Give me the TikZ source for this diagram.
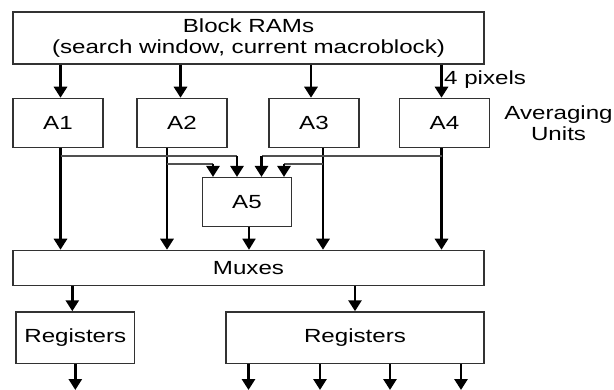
\documentclass[tikz,border=0pt]{standalone}
\usepackage{fontspec}
\setmainfont{Liberation Sans}[FakeStretch=1.27]
\usetikzlibrary{arrows.meta, positioning}
\definecolor{boxgray}{RGB}{50, 50, 50}
\definecolor{tapgray}{RGB}{80, 80, 80}

\begin{document}
\begin{tikzpicture}[x=1pt, y=1pt, font=\fontsize{19}{20.5}\selectfont,
    unit/.style={rectangle, draw=boxgray, line width=1.5pt, minimum width=90pt, minimum height=49pt, inner sep=0pt},
    wide/.style={unit, minimum width=471pt},
    note/.style={inner sep=2pt},
    bus/.style={draw, line width=2.8pt, -{Triangle[width=13pt, length=11pt]}},
    tap/.style={draw=tapgray, line width=1.7pt}]
    \useasboundingbox (0,0) rectangle (614,389);

    \node [wide, minimum height=52pt, align=center] (ram) at (248.5,351) {Block RAMs\\(search window, current macroblock)};
    \node [unit, below right=33pt and 0pt of ram.south west] (a1) {A1};
    \node [unit, right=32.5pt of a1] (a2) {A2};
    \node [unit, right=40.5pt of a2] (a3) {A3};
    \node [unit, right=39pt of a3] (a4) {A4};
    \node [unit, minimum width=89pt] (a5) at (247,186.8) {A5};
    \node [wide, minimum height=35pt, below=185pt of ram] (mux) {Muxes};
    \node [unit, minimum width=118.6pt, minimum height=51.7pt, below right=25pt and 3pt of mux.south west] (reg1) {Registers};
    \node [unit, minimum width=258pt, minimum height=51.7pt, below left=25pt and 0pt of mux.south east] (reg2) {Registers};
    \node [note, anchor=west] (pix) at (442,309) {4 pixels};
    \node [note, align=center, right=12pt of a4] (avg) {Averaging\\Units};
    \coordinate (floor) at (0,-1);

    % block RAMs feed the averaging units
    \foreach \u/\s in {a1/2.5,a2/-1.5,a3/-3,a4/-3} {
        \coordinate (d) at ([xshift=\s pt]\u.north);
        \path [bus] (ram.south -| d) -- (d);
    }

    % unit outputs straight down to the muxes
    \coordinate (o1) at ([xshift=2.5pt]a1.south);
    \coordinate (o2) at ([xshift=-15pt]a2.south);
    \coordinate (o3) at ([xshift=9pt]a3.south);
    \coordinate (o4) at ([xshift=-3pt]a4.south);
    \foreach \o in {o1,o2,o3,o4}
        \path [bus] (\o) -- (\o |- mux.north);

    % taps into A5
    \coordinate (i1) at ([xshift=-34pt]a5.north);
    \coordinate (i2) at ([xshift=-10pt]a5.north);
    \coordinate (i3) at ([xshift=14.5pt]a5.north);
    \coordinate (i4) at ([xshift=37pt]a5.north);
    \coordinate (t1) at ([yshift=-8pt]o1);
    \coordinate (t2) at ([yshift=-15.5pt]o2);
    \coordinate (t3) at ([yshift=-15.5pt]o3);
    \coordinate (t4) at ([yshift=-8pt]o4);
    \path [tap] (t1) -- (t1 -| i2);
    \path [tap] (t2) -- (t2 -| i1);
    \path [tap] (t3) -- (t3 -| i4);
    \path [tap] (t4) -- (t4 -| i3);
    \path [bus] (t1 -| i2) -- (i2);
    \path [bus] (t2 -| i1) -- (i1);
    \path [bus] (t3 -| i4) -- (i4);
    \path [bus] (t4 -| i3) -- (i3);
    \path [bus, line width=1.7pt] ([xshift=2pt]a5.south) -- ([xshift=2pt]a5.south |- mux.north);

    % muxes to registers and out
    \path [bus] ([xshift=-3pt]reg1.north |- mux.south) -- ([xshift=-3pt]reg1.north);
    \path [bus] (reg2.north |- mux.south) -- (reg2.north);
    \path [bus] (reg1.south) -- (reg1.south |- floor);
    \foreach \dx in {-106.5,-35,35,106} {
        \coordinate (q) at ([xshift=\dx pt]reg2.south);
        \path [bus] (q) -- (q |- floor);
    }
\end{tikzpicture}
\end{document}
